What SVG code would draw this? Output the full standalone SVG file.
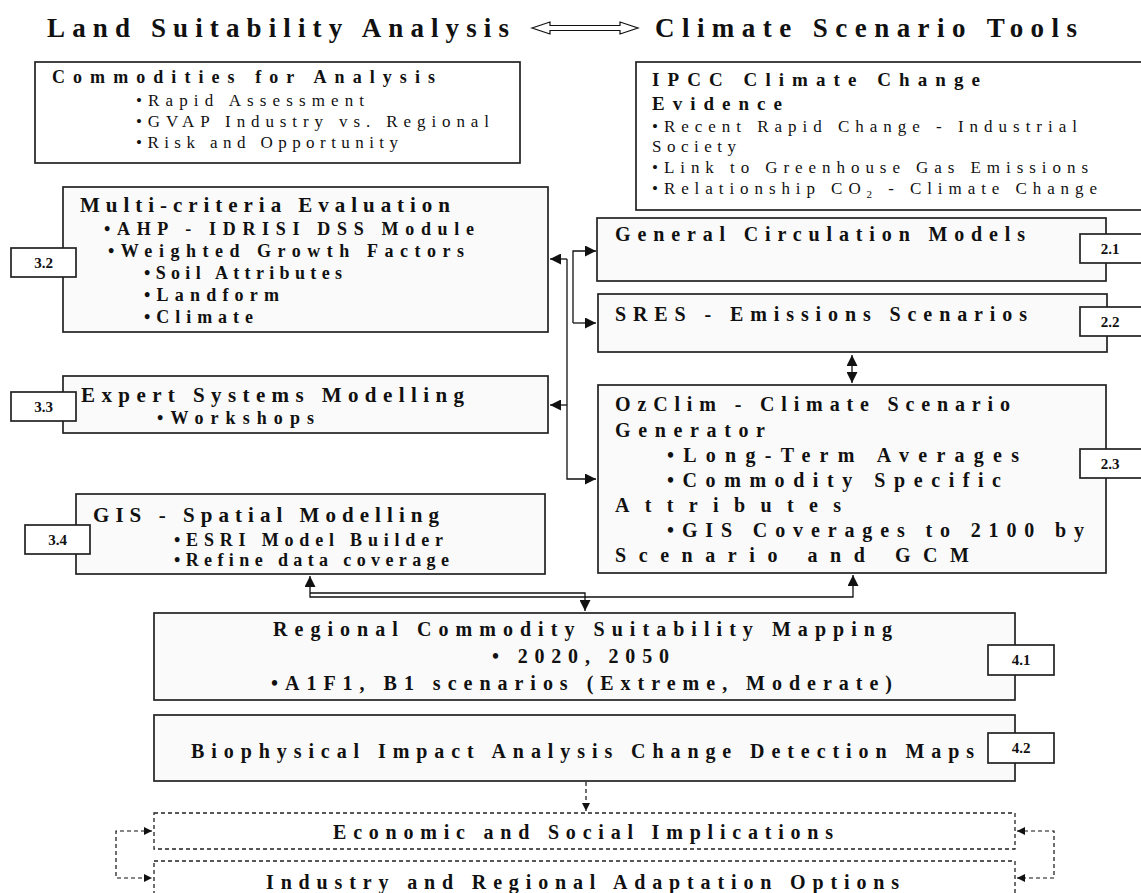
<svg xmlns="http://www.w3.org/2000/svg" width="1141" height="893" viewBox="0 0 1141 893">
<style>
text{font-family:"Liberation Serif","Times New Roman",serif;fill:#111}
.b{font-weight:bold}
.box{fill:#fafafa;stroke:#222;stroke-width:1.7}
.wbox{fill:#fff;stroke:#222;stroke-width:1.7}
.num{fill:#fff;stroke:#222;stroke-width:1.7}
.dbox{fill:#fff;stroke:#222;stroke-width:1.3;stroke-dasharray:4 3}
.ln{fill:none;stroke:#111;stroke-width:1.3}
.dl{fill:none;stroke:#111;stroke-width:1.2;stroke-dasharray:4 3}
.nt{font-size:15px;font-weight:bold;text-anchor:middle}
</style>
<defs>
<marker id="ah" viewBox="0 0 10 10" refX="10" refY="5" markerWidth="14" markerHeight="11" markerUnits="userSpaceOnUse" orient="auto-start-reverse"><path d="M0,0 L10,5 L0,10 z" fill="#111"/></marker>
<marker id="ahs" viewBox="0 0 10 10" refX="10" refY="5" markerWidth="10" markerHeight="8" markerUnits="userSpaceOnUse" orient="auto-start-reverse"><path d="M0,0 L10,5 L0,10 z" fill="#111"/></marker>
</defs>

<g id="title">
<text class="b" x="47" y="37" font-size="27" textLength="462">Land Suitability Analysis</text>
<path d="M532,28 L550,22 L550,25.5 L620,25.5 L620,22 L638,28 L620,34 L620,30.5 L550,30.5 L550,34 Z" fill="#fff" stroke="#111" stroke-width="1.2"/>
<text class="b" x="655" y="37" font-size="27" textLength="422">Climate Scenario Tools</text>
</g>

<g id="commodities">
<rect class="wbox" x="35" y="62" width="485" height="101"/>
<text class="b" x="52" y="83" font-size="18" textLength="383">Commodities for Analysis</text>
<text x="136" y="106" font-size="17" textLength="228">•Rapid Assessment</text>
<text x="136" y="127" font-size="17" textLength="353">•GVAP Industry vs. Regional</text>
<text x="136" y="148" font-size="17" textLength="262">•Risk and Opportunity</text>
</g>

<g id="ipcc">
<rect class="wbox" x="636" y="62" width="512" height="148"/>
<text class="b" x="652" y="86" font-size="19" textLength="328">IPCC Climate Change</text>
<text class="b" x="652" y="110" font-size="19" textLength="130">Evidence</text>
<text x="652" y="132" font-size="17" textLength="425">•Recent Rapid Change - Industrial</text>
<text x="652" y="152" font-size="17" textLength="84">Society</text>
<text x="652" y="173" font-size="17" textLength="436">•Link to Greenhouse Gas Emissions</text>
<text x="652" y="194" font-size="17" textLength="445">•Relationship CO<tspan font-size="11" dy="4">2</tspan><tspan dy="-4"> - Climate Change</tspan></text>
</g>

<g id="multi">
<rect class="box" x="63" y="187" width="485" height="145"/>
<text class="b" x="80" y="212" font-size="21" textLength="370">Multi-criteria Evaluation</text>
<text class="b" x="104" y="235" font-size="18" textLength="370">•AHP - IDRISI DSS Module</text>
<text class="b" x="108" y="257" font-size="18" textLength="356">•Weighted Growth Factors</text>
<text class="b" x="144" y="279" font-size="18" textLength="198">•Soil Attributes</text>
<text class="b" x="144" y="301" font-size="18" textLength="135">•Landform</text>
<text class="b" x="144" y="323" font-size="18" textLength="109">•Climate</text>
</g>
<g id="n32"><rect class="num" x="11" y="248" width="65" height="29"/><text class="nt" x="43.5" y="268">3.2</text></g>

<g id="gcm">
<rect class="box" x="597" y="218" width="509" height="63"/>
<text class="b" x="615" y="241" font-size="20" textLength="410">General Circulation Models</text>
</g>
<g id="n21"><rect class="num" x="1080" y="234" width="66" height="29"/><text class="nt" x="1110" y="254">2.1</text></g>

<g id="sres">
<rect class="box" x="598" y="294" width="509" height="58"/>
<text class="b" x="615" y="321" font-size="20" textLength="412">SRES - Emissions Scenarios</text>
</g>
<g id="n22"><rect class="num" x="1080" y="307" width="66" height="29"/><text class="nt" x="1110" y="327">2.2</text></g>

<g id="expert">
<rect class="box" x="63" y="376" width="485" height="57"/>
<text class="b" x="81" y="402" font-size="21" textLength="383">Expert Systems Modelling</text>
<text class="b" x="157" y="424" font-size="18" textLength="157">•Workshops</text>
</g>
<g id="n33"><rect class="num" x="11" y="392" width="65" height="29"/><text class="nt" x="43.5" y="412">3.3</text></g>

<g id="ozclim">
<rect class="box" x="598" y="385" width="508" height="188"/>
<text class="b" x="615" y="411" font-size="20" textLength="395">OzClim - Climate Scenario</text>
<text class="b" x="615" y="437" font-size="20" textLength="150">Generator</text>
<text class="b" x="667" y="462" font-size="20" textLength="352">•Long-Term Averages</text>
<text class="b" x="667" y="487" font-size="20" textLength="334">•Commodity Specific</text>
<text class="b" x="615" y="512" font-size="20" textLength="226">Attributes</text>
<text class="b" x="667" y="537" font-size="20" textLength="417">•GIS Coverages to 2100 by</text>
<text class="b" x="615" y="562" font-size="20" textLength="354">Scenario and GCM</text>
</g>
<g id="n23"><rect class="num" x="1080" y="449" width="66" height="29"/><text class="nt" x="1110" y="469">2.3</text></g>

<g id="gis">
<rect class="box" x="76" y="494" width="469" height="80"/>
<text class="b" x="93" y="522" font-size="21" textLength="346">GIS - Spatial Modelling</text>
<text class="b" x="174" y="546" font-size="18" textLength="269">•ESRI Model Builder</text>
<text class="b" x="174" y="566" font-size="18" textLength="275">•Refine data coverage</text>
</g>
<g id="n34"><rect class="num" x="25" y="525" width="65" height="29"/><text class="nt" x="57.5" y="545">3.4</text></g>

<g id="regional">
<rect class="box" x="154" y="613" width="861" height="87"/>
<text class="b" x="273" y="636" font-size="20" textLength="619">Regional Commodity Suitability Mapping</text>
<text class="b" x="492" y="663" font-size="20" textLength="177">• 2020, 2050</text>
<text class="b" x="271" y="690" font-size="20" textLength="621">•A1F1, B1 scenarios (Extreme, Moderate)</text>
</g>
<g id="n41"><rect class="num" x="988" y="645" width="66" height="30"/><text class="nt" x="1021" y="665">4.1</text></g>

<g id="biophysical">
<rect class="box" x="154" y="715" width="861" height="66"/>
<text class="b" x="191" y="758" font-size="20" textLength="783">Biophysical Impact Analysis Change Detection Maps</text>
</g>
<g id="n42"><rect class="num" x="988" y="733" width="66" height="30"/><text class="nt" x="1021" y="753">4.2</text></g>

<g id="economic">
<rect class="dbox" x="154" y="813" width="861" height="36"/>
<text class="b" x="333" y="839" font-size="20" textLength="500">Economic and Social Implications</text>
</g>

<g id="industry">
<rect class="dbox" x="154" y="861" width="861" height="45"/>
<text class="b" x="266" y="889" font-size="20" textLength="633">Industry and Regional Adaptation Options</text>
</g>

<g id="connectors">
<path class="ln" d="M573,323 V251 H596" marker-end="url(#ah)"/>
<path class="ln" d="M573,323 H596" marker-end="url(#ah)"/>
<path class="ln" d="M567,259 H550" marker-end="url(#ah)"/>
<path class="ln" d="M567,259 V405" stroke-width="2.2"/>
<path class="ln" d="M567,405 V479 H596" marker-end="url(#ah)"/>
<path class="ln" d="M567,405 H550" marker-end="url(#ah)"/>
<path class="ln" d="M852,355 V383" marker-start="url(#ah)" marker-end="url(#ah)"/>
<path class="ln" d="M310,576 V597 H853 V575" marker-start="url(#ah)" marker-end="url(#ah)"/>
<path class="ln" d="M310,593 H585 V611" marker-end="url(#ah)"/>
<path class="dl" d="M586,782 V811" marker-end="url(#ahs)"/>
<path class="dl" d="M152,831 H116 V878 H152" marker-start="url(#ahs)" marker-end="url(#ahs)"/>
<path class="dl" d="M1017,831 H1054 V878 H1017" marker-start="url(#ahs)" marker-end="url(#ahs)"/>
</g>
</svg>
